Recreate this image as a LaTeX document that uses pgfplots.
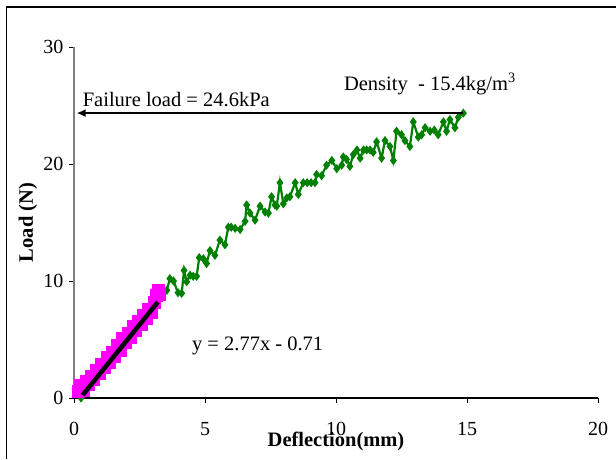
\documentclass[border=0pt]{standalone}
\usepackage{pgfplots}
\pgfplotsset{compat=1.18}
\usetikzlibrary{arrows.meta}
\usepackage{fontspec}
\setmainfont{Liberation Serif}
\definecolor{exgreen}{RGB}{0,128,0}
\definecolor{exmag}{RGB}{255,0,255}
\begin{document}
\begin{tikzpicture}
\useasboundingbox (0,0) rectangle (616pt,459pt);
\draw[line width=1.4pt] (6.5pt,0) -- (6.5pt,452pt) -- (620pt,452pt);
\begin{axis}[
  at={(74pt,61pt)}, anchor=south west,
  scale only axis, width=524pt, height=351pt,
  xmin=0, xmax=20, ymin=0, ymax=30,
  axis x line*=bottom, axis y line*=left,
  x axis line style={-, black, line width=1.2pt},
  y axis line style={-, gray, line width=1.6pt},
  tick align=outside, major tick length=5pt,
  tick style={black, line width=0.8pt},
  xtick={0,5,10,15,20}, ytick={0,10,20,30},
  minor tick num=0,
  /pgf/number format/assume math mode=true,
  tick label style={font=\fontsize{20}{24}\selectfont},
  xticklabel style={anchor=base, yshift=-32pt},
  yticklabel style={anchor=east, xshift=-2pt},
  xlabel={\textbf{Deflection(mm)}},
  ylabel={\textbf{Load (N)}},
  label style={font=\fontsize{20.5}{24}\selectfont},
  xlabel style={at={(axis description cs:0.5,0)}, anchor=base, yshift=-48pt},
  ylabel style={at={(axis description cs:-0.088,0.5)}, anchor=center},
  clip=false, clip marker paths=true,
]
\addplot[exgreen, line width=2.2pt, mark=diamond*, mark size=2.8pt, mark options={solid, fill=exgreen}] coordinates {
(0.04,0.8) (0.27,0.0) (0.6,1.0) (1.0,2.0) (1.5,3.5) (2.0,5.0) (2.5,6.3) (3.0,7.8) (3.3,9.2)
(3.54,9.2) (3.66,10.2) (3.8,10.0) (3.97,9.0) (4.11,8.95) (4.2,10.9) (4.3,9.94) (4.43,10.5)
(4.55,10.4) (4.68,10.4) (4.78,12.0) (4.94,11.9) (5.06,11.5) (5.19,12.6) (5.38,12.2)
(5.57,13.5) (5.76,13.1) (5.89,14.6) (6.0,14.6) (6.15,14.5) (6.34,14.4) (6.53,15.1)
(6.59,16.5) (6.72,15.8) (6.91,15.2) (7.1,16.4) (7.29,15.9) (7.42,15.8) (7.54,17.2)
(7.67,16.5) (7.74,16.4) (7.86,18.4) (7.99,16.6) (8.12,17.1) (8.24,17.2) (8.44,18.4)
(8.56,17.4) (8.75,18.4) (8.9,18.4) (9.05,18.4) (9.2,18.4) (9.26,19.1) (9.45,19.0)
(9.64,19.9) (9.84,20.3) (10.03,19.6) (10.22,19.9) (10.28,20.6) (10.4,20.4) (10.53,19.8)
(10.66,20.8) (10.8,21.2) (10.92,20.5) (11.05,21.2) (11.17,21.2) (11.3,21.2) (11.42,21.0)
(11.55,21.9) (11.74,20.5) (11.87,22.0) (12.06,21.5) (12.19,20.3) (12.31,22.8)
(12.5,22.5) (12.63,22.0) (12.82,21.5) (12.95,23.6) (13.14,22.3) (13.27,22.5)
(13.4,23.1) (13.59,22.8) (13.75,22.9) (13.9,22.5) (14.1,23.6) (14.22,22.8) (14.35,23.8)
(14.54,23.1) (14.67,24.0) (14.86,24.35)
};
\addplot[only marks, mark=square*, mark size=6pt, exmag, mark options={fill=exmag, draw=exmag}] coordinates {
(0.15,0.6) (0.25,1.1) (0.35,0.7) (0.45,1.4) (0.55,1.2) (0.65,1.9) (0.75,1.6) (0.85,2.4)
(0.95,2.1) (1.05,2.9) (1.15,2.6) (1.25,3.5) (1.35,3.1) (1.45,3.9) (1.55,3.6) (1.65,4.5)
(1.75,4.1) (1.85,5.1) (1.95,4.8) (2.05,5.5) (2.15,5.2) (2.25,6.1) (2.35,5.8) (2.45,6.6)
(2.55,6.3) (2.65,7.1) (2.75,6.8) (2.85,7.6) (2.95,7.3) (3.05,8.2) (3.15,8.8) (3.2,9.2) (3.25,8.9)
};
\addplot[black, line width=4.5pt, no marks] coordinates {(0.33,0.25) (3.2,8.2)};
\draw[-{Latex[length=9pt,width=8pt]}, line width=1.6pt] (axis cs:14.86,24.35) -- (axis cs:0.1,24.35);
\node[anchor=base west, inner sep=0pt, font=\fontsize{20.5}{24}\selectfont] at (axis cs:0.33,24.9) {Failure load = 24.6kPa};
\node[anchor=base west, inner sep=0pt, font=\fontsize{20.5}{24}\selectfont] at (axis cs:10.3,26.3) {Density\ \ - 15.4kg/m\textsuperscript{3}};
\node[anchor=base west, inner sep=0pt, font=\fontsize{20.5}{24}\selectfont] at (axis cs:4.5,4.05) {y = 2.77x - 0.71};
\end{axis}
\end{tikzpicture}
\end{document}
